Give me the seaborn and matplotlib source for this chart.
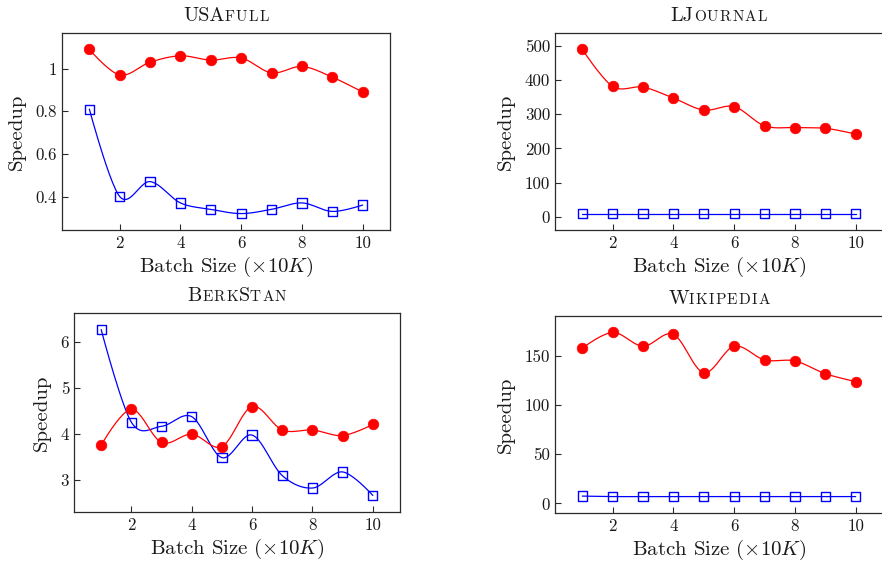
import numpy as np
import matplotlib
matplotlib.use("Agg")
import matplotlib.pyplot as plt
import seaborn as sns
from matplotlib.offsetbox import TextArea, HPacker, AnchoredOffsetbox
from matplotlib.ticker import FuncFormatter

# ---------------- data ----------------
batch = [1, 2, 3, 4, 5, 6, 7, 8, 9, 10]

usa_red = [1.09, 0.97, 1.03, 1.06, 1.04, 1.05, 0.98, 1.01, 0.96, 0.89]
usa_blue = [0.81, 0.40, 0.47, 0.37, 0.34, 0.32, 0.34, 0.37, 0.33, 0.36]

lj_red = [489, 381, 379, 347, 312, 322, 266, 261, 259, 242]
lj_blue = [10, 10, 10, 10, 10, 10, 10, 10, 10, 10]

berk_red = [3.75, 4.53, 3.81, 3.99, 3.72, 4.59, 4.08, 4.08, 3.96, 4.20]
berk_blue = [6.26, 4.25, 4.16, 4.37, 3.48, 3.97, 3.09, 2.82, 3.17, 2.66]

wiki_red = [158, 174, 160, 172, 133, 160, 146, 145, 132, 124]
wiki_blue = [7.5, 7, 7, 7, 7, 7, 7, 7, 7, 7]

titles = [[("USA", True), ("FULL", False)],
          [("LJ", True), ("OURNAL", False)],
          [("B", True), ("ERK", False), ("S", True), ("TAN", False)],
          [("W", True), ("IKIPEDIA", False)]]

yticks = [[0.4, 0.6, 0.8, 1.0],
          [0, 100, 200, 300, 400, 500],
          [3, 4, 5, 6],
          [0, 50, 100, 150]]
xticks = [2, 4, 6, 8, 10]

xlabel = r"Batch Size ($\times 10K$)"
ylabel = "Speedup"

# ---------------- style ----------------
sns.set_theme(style="white")
plt.rcParams["font.family"] = ["cmr10", "DejaVu Serif"]
plt.rcParams["mathtext.fontset"] = "cm"
plt.rcParams["axes.formatter.use_mathtext"] = True
plt.rcParams["axes.unicode_minus"] = False

W, H = 882, 563
fig = plt.figure(figsize=(W / 100, H / 100), dpi=100)

# axes boxes in pixels: left, top, right, bottom
boxes = [(62, 33, 390, 230), (555, 33, 883, 230),
         (74, 313, 400, 512), (555, 316, 883, 513)]

series = [(usa_red, usa_blue), (lj_red, lj_blue),
          (berk_red, berk_blue), (wiki_red, wiki_blue)]

TXT = "#1a1a1a"
FAM = ["cmr10", "DejaVu Serif"]


def smooth(x, y, tension=0.55):
    """TikZ-like smooth curve (cubic Bezier) through the given points."""
    x = np.asarray(x, float)
    y = np.asarray(y, float)
    n = len(x)
    k = tension * 0.3
    outx, outy = [], []
    t = np.linspace(0, 1, 25)
    for i in range(n - 1):
        p0 = np.array([x[i], y[i]])
        p3 = np.array([x[i + 1], y[i + 1]])
        if i == 0:
            c1 = p0
        else:
            c1 = p0 + k * (p3 - np.array([x[i - 1], y[i - 1]]))
        if i + 1 == n - 1:
            c2 = p3
        else:
            c2 = p3 - k * (np.array([x[i + 2], y[i + 2]]) - p0)
        b = ((1 - t) ** 3)[:, None] * p0 + (3 * (1 - t) ** 2 * t)[:, None] * c1 \
            + (3 * (1 - t) * t ** 2)[:, None] * c2 + (t ** 3)[:, None] * p3
        if i > 0:
            b = b[1:]
        outx.extend(b[:, 0])
        outy.extend(b[:, 1])
    return np.array(outx), np.array(outy)


fmt = FuncFormatter(lambda v, p: "%g" % v)

for idx, (box, (red, blue)) in enumerate(zip(boxes, series)):
    l, t_, r, b = box
    ax = fig.add_axes([l / W, 1 - b / H, (r - l) / W, (b - t_) / H])

    for vals, col in [(blue, "#0000ff"), (red, "#ff0000")]:
        sx, sy = smooth(batch, vals)
        sns.lineplot(x=sx, y=sy, ax=ax, color=col, lw=0.9, sort=False,
                     estimator=None, zorder=2)
    sns.scatterplot(x=batch, y=blue, ax=ax, marker="s", s=44,
                    facecolor="none", edgecolor="#0000ff", linewidth=1.0, zorder=3)
    sns.scatterplot(x=batch, y=red, ax=ax, marker="o", s=58,
                    color="#ff0000", edgecolor="#ff0000", linewidth=0.5, zorder=4)

    allv = list(red) + list(blue)
    lo, hi = min(allv), max(allv)
    pad = 0.1 * (hi - lo)
    ax.set_ylim(lo - pad, hi + pad)
    ax.set_xlim(0.1, 10.9)
    ax.set_xticks(xticks)
    ax.set_yticks(yticks[idx])
    ax.yaxis.set_major_formatter(fmt)
    ax.xaxis.set_major_formatter(fmt)

    for s in ax.spines.values():
        s.set_color("#2b2b2b")
        s.set_linewidth(0.9)
    ax.tick_params(direction="in", length=4, width=0.8, color="#2b2b2b",
                   labelsize=12.2, labelcolor=TXT,
                   bottom=True, left=True, top=False, right=False)
    ax.tick_params(axis="x", pad=4)
    ax.tick_params(axis="y", pad=3.5)
    ax.set_xlabel(xlabel, fontsize=15, color=TXT, labelpad=3)
    ax.set_ylabel(ylabel, fontsize=15, color=TXT, labelpad=7)

    parts = []
    for txt, big in titles[idx]:
        if big:
            parts.append(TextArea(txt, textprops=dict(fontsize=14.5, color=TXT,
                                                      family=FAM)))
        else:
            letters = [TextArea(ch, textprops=dict(fontsize=11, color=TXT,
                                                   family=FAM)) for ch in txt]
            parts.append(HPacker(children=letters, align="baseline", pad=0, sep=0.9))
    pack = HPacker(children=parts, align="baseline", pad=0, sep=0.2)
    anchored = AnchoredOffsetbox(loc="lower center", child=pack, pad=0,
                                 frameon=False, bbox_to_anchor=(0.5, 1.0),
                                 bbox_transform=ax.transAxes, borderpad=0.5)
    ax.add_artist(anchored)

fig.savefig("out.png", dpi=100)
